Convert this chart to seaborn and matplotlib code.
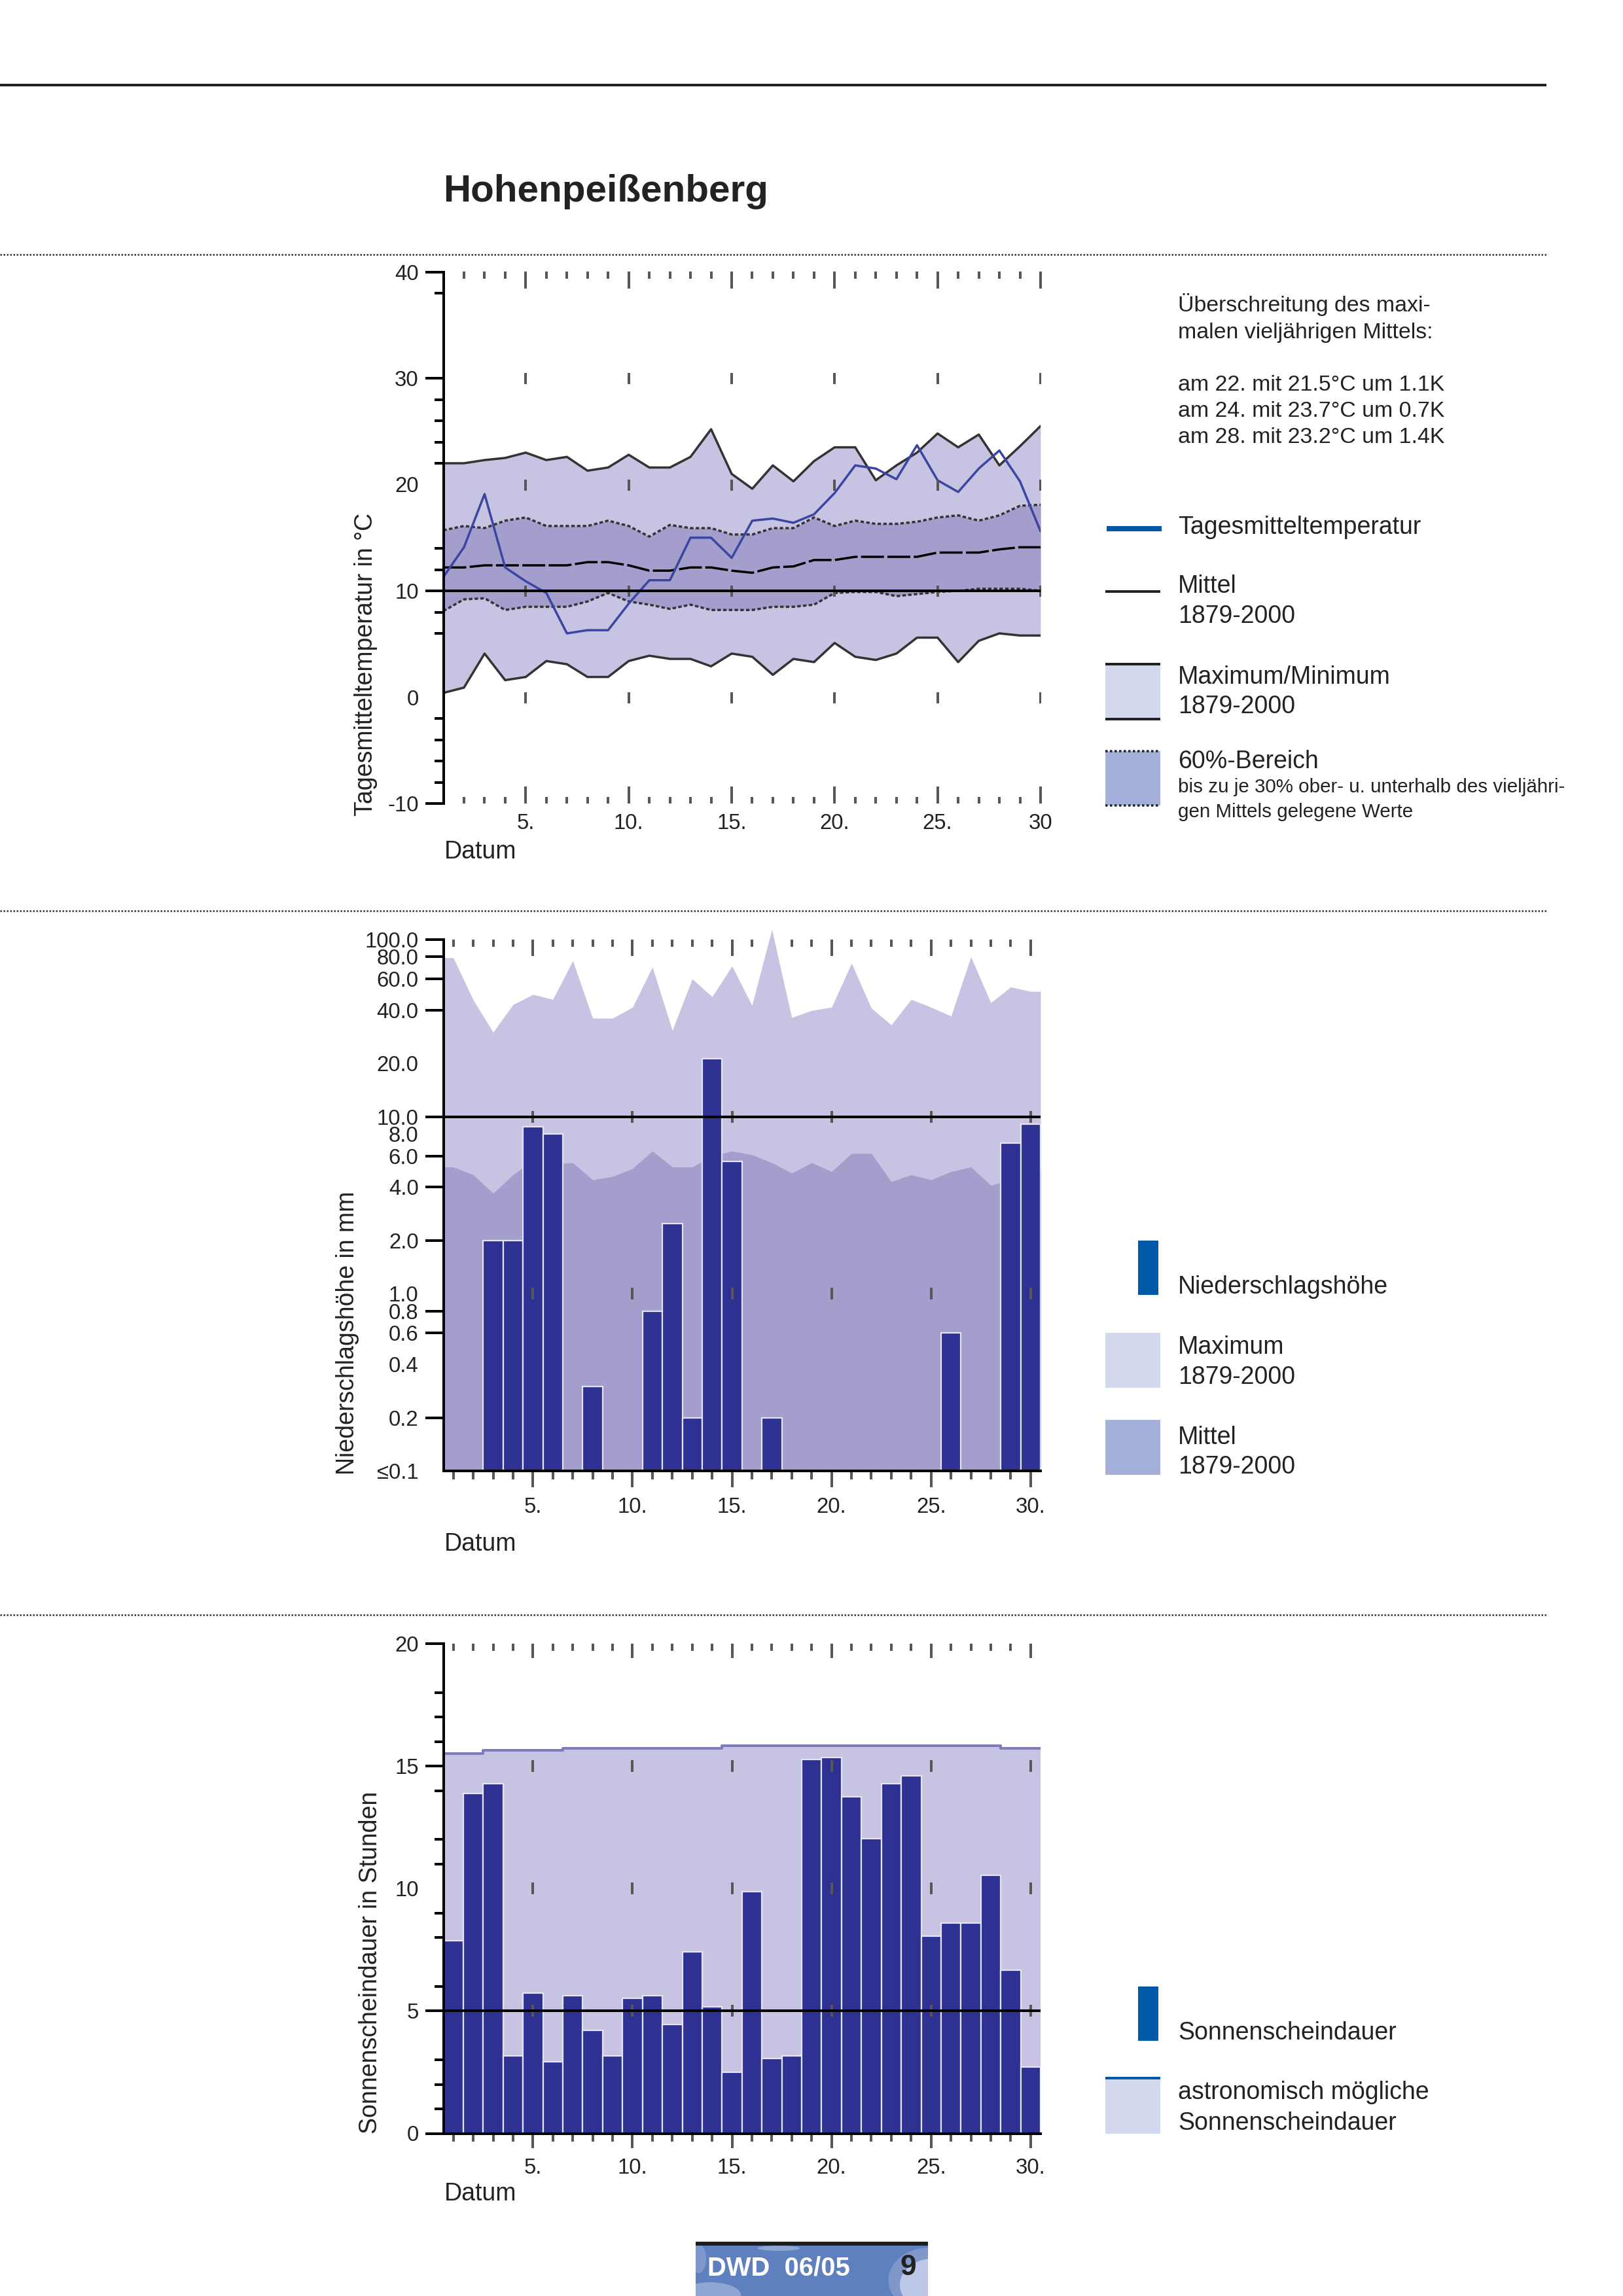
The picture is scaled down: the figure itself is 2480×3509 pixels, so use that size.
import matplotlib
matplotlib.use("Agg")
import matplotlib.pyplot as plt
from matplotlib.patches import Rectangle, Ellipse
from matplotlib.ticker import FixedLocator, NullFormatter
import seaborn as sns

# --- data ---
days = list(range(1, 31))

temp_daily = [11.3, 14.1, 19.1, 12.2, 10.9, 9.8, 6.0, 6.3, 6.3, 8.8, 11.0, 11.0, 15.0, 15.0, 13.1,
              16.6, 16.8, 16.4, 17.2, 19.2, 21.8, 21.5, 20.5, 23.7, 20.4, 19.3, 21.5, 23.2, 20.3, 15.6]
temp_max = [22.0, 22.0, 22.3, 22.5, 23.0, 22.3, 22.6, 21.3, 21.6, 22.8, 21.6, 21.6, 22.6, 25.2, 21.0,
            19.6, 21.8, 20.3, 22.2, 23.5, 23.5, 20.4, 21.8, 23.0, 24.8, 23.5, 24.7, 21.8, 23.6, 25.5]
temp_upper = [15.7, 16.1, 15.9, 16.6, 16.9, 16.1, 16.1, 16.1, 16.6, 16.1, 15.1, 16.2, 15.9, 15.9, 15.3,
              15.3, 15.9, 15.9, 16.9, 16.1, 16.6, 16.3, 16.3, 16.5, 16.9, 17.1, 16.6, 17.1, 18.0, 18.1]
temp_mean = [12.2, 12.2, 12.4, 12.4, 12.4, 12.4, 12.4, 12.7, 12.7, 12.4, 11.9, 11.9, 12.2, 12.2, 11.9,
             11.7, 12.2, 12.3, 12.9, 12.9, 13.2, 13.2, 13.2, 13.2, 13.6, 13.6, 13.6, 13.9, 14.1, 14.1]
temp_lower = [8.1, 9.2, 9.3, 8.2, 8.5, 8.5, 8.5, 9.0, 9.8, 9.0, 8.7, 8.3, 8.7, 8.2, 8.2,
              8.2, 8.5, 8.5, 8.7, 9.8, 9.9, 9.9, 9.5, 9.7, 9.9, 10.0, 10.2, 10.2, 10.2, 10.0]
temp_min = [0.4, 0.9, 4.1, 1.6, 1.9, 3.4, 3.1, 1.9, 1.9, 3.4, 3.9, 3.6, 3.6, 2.9, 4.1,
            3.8, 2.1, 3.6, 3.3, 5.1, 3.8, 3.5, 4.1, 5.6, 5.6, 3.3, 5.3, 6.0, 5.8, 5.8]
temp_ticks = [40, 30, 20, 10, 0, -10]
temp_marked = [40, 30, 10, -10]
temp_minor = [38, 28, 26, 24, 22, 14, 12, 8, 6, -2, -4, -6, -8]

rain_days = [3, 4, 5, 6, 8, 11, 12, 13, 14, 15, 17, 26, 29, 30]
rain_sum = [2.0, 2.0, 8.8, 8.0, 0.3, 0.8, 2.5, 0.2, 21.2, 5.6, 0.2, 0.6, 7.1, 9.1]
rain_max = [79, 45.6, 30, 43, 49, 46, 76, 36, 36, 41.5, 70, 30.7, 60, 47.6, 71,
            42.5, 114, 36.3, 39.8, 41.5, 73.5, 41, 33, 46, 41.5, 37, 80, 44, 54, 51]
rain_mean = [5.2, 4.7, 3.7, 4.7, 5.7, 5.4, 5.5, 4.4, 4.6, 5.1, 6.4, 5.2, 5.2, 6.0, 6.4,
             6.1, 5.5, 4.8, 5.5, 4.9, 6.2, 6.2, 4.3, 4.7, 4.4, 4.9, 5.2, 4.1, 4.4, 5.1]
rain_ticks = [100, 80, 60, 40, 20, 10, 8, 6, 4, 2, 1, 0.8, 0.6, 0.4, 0.2, 0.1]
rain_labels = ["100.0", "80.0", "60.0", "40.0", "20.0", "10.0", "8.0", "6.0", "4.0", "2.0",
               "1.0", "0.8", "0.6", "0.4", "0.2", "≤0.1"]
rain_marked = [100, 80, 60, 40, 10, 6, 4, 2, 0.8, 0.6, 0.2]

sun_hours = [7.87, 13.88, 14.27, 3.17, 5.73, 2.93, 5.62, 4.2, 3.17, 5.52, 5.62, 4.44, 7.42, 5.18, 2.5,
             9.88, 3.06, 3.17, 15.26, 15.34, 13.76, 12.03, 14.27, 14.59, 8.06, 8.6, 8.6, 10.54, 6.67, 2.71]
sun_possible = [15.5, 15.5, 15.64, 15.64, 15.64, 15.64, 15.73, 15.73, 15.73, 15.73, 15.73, 15.73, 15.73, 15.73, 15.84,
                15.84, 15.84, 15.84, 15.84, 15.84, 15.84, 15.84, 15.84, 15.84, 15.84, 15.84, 15.84, 15.84, 15.73, 15.73]
sun_ticks = [20, 15, 10, 5, 0]
sun_marked = [20, 15, 5, 0]
sun_minor = [18, 17, 16, 14, 12, 11, 9, 8, 6, 3, 2, 1]

# colours
BAND_LIGHT = "#C6C4E2"
BAND_DARK = "#A49ECD"
BAR_BLUE = "#2E3192"
LINE_BLUE = "#3D45A3"
LEGEND_BLUE = "#0059A8"
LEGEND_LIGHT = "#D3D9EC"
LEGEND_DARK = "#A4B0D9"
INK = "#222222"
TICK_GREY = "#5a5656"

W, H = 2480, 3509
DPI = 300
TEXT_SIZE = 9.0
NOTE_SIZE = 8.15
SMALL_SIZE = 7.1
TICK_SIZE = 7.9

sns.set_theme(style="white")
plt.rcParams["font.family"] = ["Liberation Sans", "DejaVu Sans"]

fig = plt.figure(figsize=(W / DPI, H / DPI), dpi=DPI)

# whole page axes in pixels, everything that is not a chart goes here
page = fig.add_axes([0, 0, 1, 1], zorder=-1)
page.set_xlim(0, W)
page.set_ylim(H, 0)
page.axis("off")


def px(n):
    # pixels to points
    return n * 72 / DPI


def make_panel(left, top, right, bottom):
    ax = fig.add_axes([left / W, 1 - bottom / H, (right - left) / W, (bottom - top) / H])
    ax.patch.set_alpha(0)
    for side in ["top", "right"]:
        ax.spines[side].set_visible(False)
    ax.spines["left"].set_linewidth(px(4))
    ax.spines["left"].set_color("black")
    ax.spines["bottom"].set_linewidth(px(4))
    ax.spines["bottom"].set_color("black")
    return ax


def style_x(ax, x0, x1, labels, outward, major_len, minor_len):
    ax.set_xlim(x0, x1)
    ax.xaxis.set_major_locator(FixedLocator(days[4::5]))
    ax.xaxis.set_minor_locator(FixedLocator([d for d in days if d % 5 and d > x0]))
    ax.set_xticklabels(labels)
    ax.xaxis.set_minor_formatter(NullFormatter())
    direction = "out" if outward else "in"
    ax.tick_params(axis="x", which="major", bottom=True, direction=direction, length=px(major_len),
                   width=px(4), color=TICK_GREY, labelsize=TICK_SIZE, pad=px(15), labelcolor=INK)
    ax.tick_params(axis="x", which="minor", bottom=True, direction=direction, length=px(minor_len),
                   width=px(4), color=TICK_GREY)
    # the little ticks along the top edge
    top = ax.secondary_xaxis("top")
    top.spines["top"].set_visible(False)
    top.xaxis.set_major_locator(FixedLocator(days[4::5]))
    top.xaxis.set_minor_locator(FixedLocator([d for d in days if d % 5 and d > x0]))
    top.xaxis.set_major_formatter(NullFormatter())
    top.xaxis.set_minor_formatter(NullFormatter())
    top.tick_params(axis="x", which="major", top=True, direction="in", length=px(major_len), width=px(4), color=TICK_GREY)
    top.tick_params(axis="x", which="minor", top=True, direction="in", length=px(11), width=px(4), color=TICK_GREY)


def style_y(ax, ticks, labels, marked, minor):
    ax.set_yticks(ticks, labels)
    ax.yaxis.set_minor_locator(FixedLocator(minor))
    ax.yaxis.set_minor_formatter(NullFormatter())
    ax.tick_params(axis="y", which="major", left=True, direction="out", length=px(28), width=px(4),
                   color="black", labelsize=TICK_SIZE, pad=px(10), labelcolor=INK)
    ax.tick_params(axis="y", which="minor", left=True, direction="out", length=px(14), width=px(4), color="black")
    for val, tick in zip(ticks, ax.yaxis.get_major_ticks()):
        tick.tick1line.set_visible(val in marked)


def mid_ticks(ax, levels, size):
    for level in levels:
        ax.plot(days[4::5], [level] * 6, ls="none", marker="|", ms=px(size), mew=px(4), color=TICK_GREY, zorder=5)


def y_title(ax, text, x, y):
    ax.set_ylabel(text, fontsize=TEXT_SIZE, color=INK)
    ax.yaxis.set_label_coords(x, y, transform=page.transData)


def txt(x, y, s, size=TEXT_SIZE, **kw):
    kw.setdefault("color", INK)
    page.text(x, y, s, fontsize=size, va="baseline", ha="left", **kw)


def stretch(values):
    # the areas run flat out to the axis edges in the bar panels
    return [values[0]] + values + [values[-1]]


# --- page furniture ---
page.plot([0, 2363], [130, 130], color=INK, lw=px(4), solid_capstyle="butt")
for y in [389, 1392, 2468]:
    page.plot([0, 2363], [y, y], color="#333333", lw=px(2.5), ls=(0, (1, 1)))
txt(677, 308, "Hohenpeißenberg", size=14.0, fontweight="bold")

# --- Temperatur ---
ax1 = make_panel(677.5, 415.5, 1590, 1228)
ax1.spines["bottom"].set_visible(False)
ax1.fill_between(days, temp_min, temp_max, color=BAND_LIGHT, lw=0)
ax1.fill_between(days, temp_lower, temp_upper, color=BAND_DARK, lw=0)
sns.lineplot(x=days, y=temp_max, color="#333333", lw=px(3.5), ax=ax1)
sns.lineplot(x=days, y=temp_min, color="#333333", lw=px(3.5), ax=ax1)
sns.lineplot(x=days, y=temp_upper, color="#333333", lw=px(3.5), ls=(0, (1.5, 1)), ax=ax1)
sns.lineplot(x=days, y=temp_lower, color="#333333", lw=px(3.5), ls=(0, (1.5, 1)), ax=ax1)
sns.lineplot(x=days, y=temp_mean, color="black", lw=px(3.5), ls=(0, (10, 1.5)), ax=ax1)
sns.lineplot(x=days, y=temp_daily, color=LINE_BLUE, lw=px(3.5), ax=ax1)
ax1.axhline(10, color="black", lw=px(4), zorder=6)
ax1.set_ylim(-10, 40)
style_x(ax1, 1, 30, ["5.", "10.", "15.", "20.", "25.", "30"], False, 26, 10)
style_y(ax1, temp_ticks, ["40", "30", "20", "10", "0", "-10"], temp_marked, temp_minor)
mid_ticks(ax1, [30, 20, 10, 0], 17)
ax1.set_xlabel("")
y_title(ax1, "Tagesmitteltemperatur in °C", 577, 1015)
txt(679, 1312, "Datum")

txt(1800, 476, "Überschreitung des maxi-", size=NOTE_SIZE)
txt(1800, 517, "malen vieljährigen Mittels:", size=NOTE_SIZE)
txt(1800, 597, "am 22. mit 21.5°C um 1.1K", size=NOTE_SIZE)
txt(1800, 637, "am 24. mit 23.7°C um 0.7K", size=NOTE_SIZE)
txt(1800, 677, "am 28. mit 23.2°C um 1.4K", size=NOTE_SIZE)

page.add_patch(Rectangle((1691, 804), 84, 8, color=LEGEND_BLUE, lw=0))
txt(1800, 816, "Tagesmitteltemperatur")
page.add_patch(Rectangle((1689, 902), 84, 4, color=INK, lw=0))
txt(1800, 906, "Mittel")
txt(1800, 952, "1879-2000")
page.add_patch(Rectangle((1689, 1015), 84, 84, color=LEGEND_LIGHT, lw=0))
page.add_patch(Rectangle((1689, 1013), 84, 4, color=INK, lw=0))
page.add_patch(Rectangle((1689, 1097), 84, 4, color=INK, lw=0))
txt(1800, 1045, "Maximum/Minimum")
txt(1800, 1090, "1879-2000")
page.add_patch(Rectangle((1689, 1148), 84, 83, color=LEGEND_DARK, lw=0))
for y in [1148, 1231]:
    page.plot([1689, 1773], [y, y], color=INK, lw=px(3.5), ls=(0, (1, 1)))
txt(1800, 1174, "60%-Bereich")
txt(1800, 1211, "bis zu je 30% ober- u. unterhalb des vieljähri-", size=SMALL_SIZE)
txt(1800, 1249, "gen Mittels gelegene Werte", size=SMALL_SIZE)

# --- Niederschlag ---
ax2 = make_panel(677.5, 1436, 1590, 2248)
ax2.set_yscale("log")
edge_days = [0.5] + days + [30.5]
ax2.fill_between(edge_days, 0.1, stretch(rain_max), color=BAND_LIGHT, lw=0, clip_on=False)
ax2.fill_between(edge_days, 0.1, stretch(rain_mean), color=BAND_DARK, lw=0)
sns.barplot(x=rain_days, y=rain_sum, native_scale=True, width=1, color=BAR_BLUE, saturation=1,
            edgecolor="#E4E4F2", linewidth=px(2.2), errorbar=None, ax=ax2)
ax2.axhline(10, color="black", lw=px(4), zorder=6)
ax2.set_ylim(0.1, 100)
style_x(ax2, 0.5, 30.5, ["5.", "10.", "15.", "20.", "25.", "30."], True, 25, 13)
style_y(ax2, rain_ticks, rain_labels, rain_marked, [])
mid_ticks(ax2, [10, 1], 19)
ax2.set_xlabel("")
y_title(ax2, "Niederschlagshöhe in mm", 549, 2037)
txt(679, 2370, "Datum")

page.add_patch(Rectangle((1739, 1896), 31, 83, color=LEGEND_BLUE, lw=0))
txt(1800, 1977, "Niederschlagshöhe")
page.add_patch(Rectangle((1689, 2037), 84, 84, color=LEGEND_LIGHT, lw=0))
txt(1800, 2069, "Maximum")
txt(1800, 2115, "1879-2000")
page.add_patch(Rectangle((1689, 2170), 84, 84, color=LEGEND_DARK, lw=0))
txt(1800, 2207, "Mittel")
txt(1800, 2252, "1879-2000")

# --- Sonnenschein ---
ax3 = make_panel(677.5, 2512, 1590, 3260.5)
ax3.fill_between(edge_days, 0, stretch(sun_possible), color=BAND_LIGHT, lw=0, step="mid")
sns.lineplot(x=edge_days, y=stretch(sun_possible), color="#7F7CBE", lw=px(4), drawstyle="steps-mid", ax=ax3)
sns.barplot(x=days, y=sun_hours, native_scale=True, width=1, color=BAR_BLUE, saturation=1,
            edgecolor="#E4E4F2", linewidth=px(2.2), errorbar=None, ax=ax3)
ax3.axhline(5, color="black", lw=px(4), zorder=6)
ax3.set_ylim(0, 20)
style_x(ax3, 0.5, 30.5, ["5.", "10.", "15.", "20.", "25.", "30."], True, 22, 12)
style_y(ax3, sun_ticks, ["20", "15", "10", "5", "0"], sun_marked, sun_minor)
mid_ticks(ax3, [15, 10, 5], 18)
ax3.set_xlabel("")
y_title(ax3, "Sonnenscheindauer in Stunden", 584, 2999)
txt(679, 3363, "Datum")

page.add_patch(Rectangle((1739, 3036), 31, 83, color=LEGEND_BLUE, lw=0))
txt(1800, 3117, "Sonnenscheindauer")
page.add_patch(Rectangle((1689, 3174), 84, 87, color=LEGEND_LIGHT, lw=0))
page.add_patch(Rectangle((1689, 3174), 84, 4, color=LEGEND_BLUE, lw=0))
txt(1800, 3208, "astronomisch mögliche")
txt(1800, 3255, "Sonnenscheindauer")

# --- footer ---
sky = Rectangle((1063, 3432), 355, 77, color="#5F80BE", lw=0)
page.add_patch(sky)
for cx, cy, w, h, c in [(1420, 3485, 125, 100, "#7F97CB"), (1425, 3492, 100, 80, "#BCC8E6"),
                        (1085, 3508, 95, 40, "#8FA5D3"), (1068, 3452, 22, 44, "#7F97CB"),
                        (1190, 3436, 65, 8, "#8FA5D3")]:
    cloud = Ellipse((cx, cy), w, h, color=c, lw=0)
    page.add_patch(cloud)
    cloud.set_clip_path(sky)
page.add_patch(Rectangle((1063, 3426), 355, 6, color="#1c1c1c", lw=0))
txt(1081, 3477, "DWD  06/05", size=9.6, color="white", fontweight="bold")
txt(1375, 3477, "9", size=10.7, fontweight="bold")

fig.savefig("out.png", dpi=DPI)
